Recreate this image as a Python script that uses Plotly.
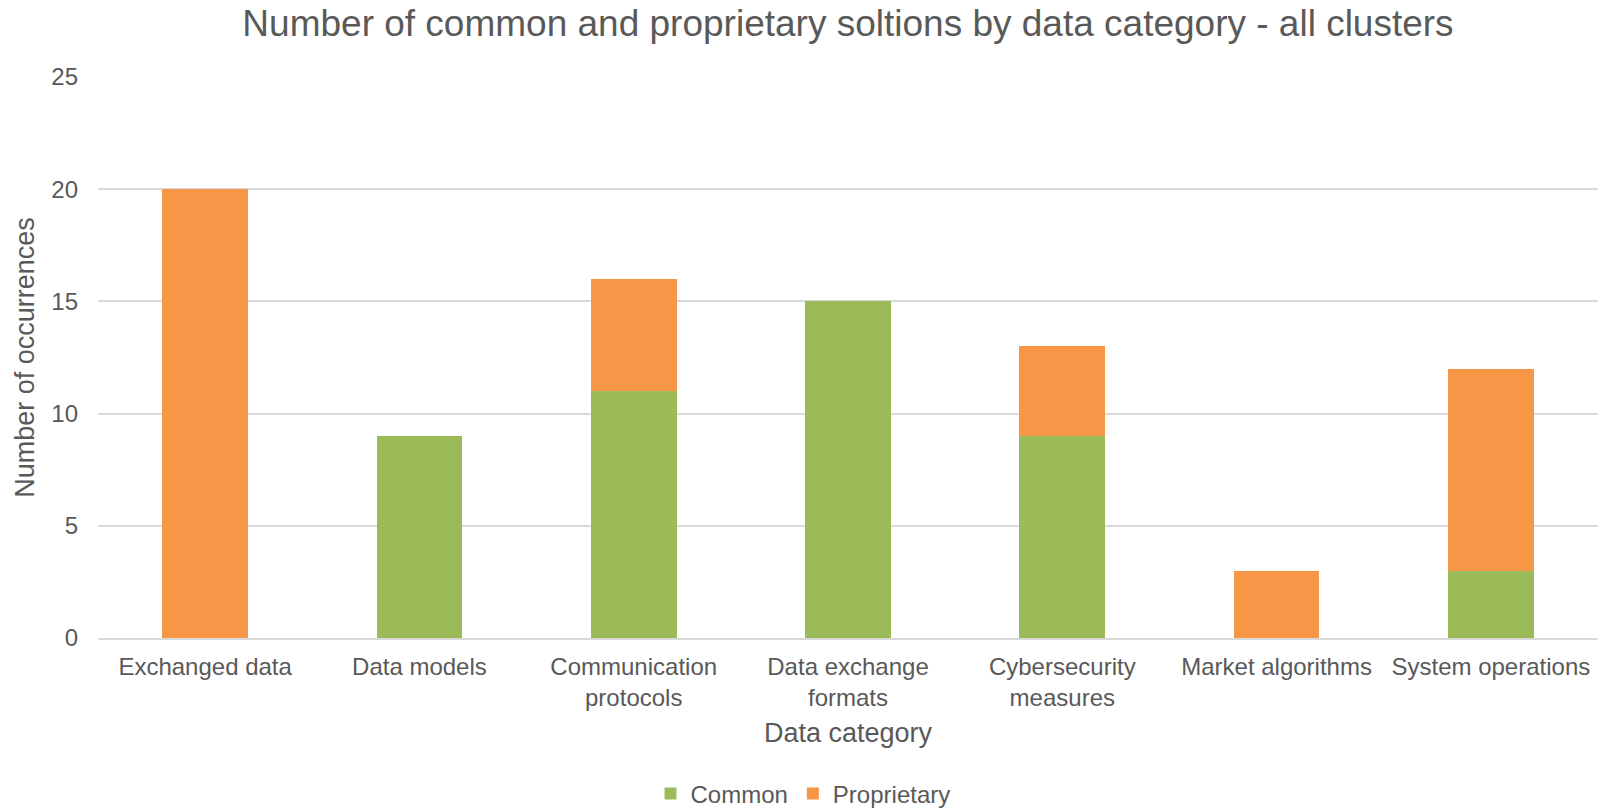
import plotly.graph_objects as go

# Data categories on the x axis
categories = [
    "Exchanged data",
    "Data models",
    "Communication<br>protocols",
    "Data exchange<br>formats",
    "Cybersecurity<br>measures",
    "Market algorithms",
    "System operations",
]

# Number of solutions per category
common = [0, 9, 11, 15, 9, 0, 3]
proprietary = [20, 0, 5, 0, 4, 3, 9]

y_ticks = [0, 5, 10, 15, 20, 25]

GREEN = "#9BBB59"
ORANGE = "#F79646"
TEXT = "#595959"
GRID = "#D9D9D9"
FONT = "Liberation Sans, Arial, sans-serif"

fig = go.Figure()
fig.add_trace(go.Bar(name="Common", x=categories, y=common,
                     marker=dict(color=GREEN, line=dict(width=0))))
fig.add_trace(go.Bar(name="Proprietary", x=categories, y=proprietary,
                     marker=dict(color=ORANGE, line=dict(width=0))))

fig.update_layout(
    width=1608,
    height=812,
    barmode="stack",
    bargap=0.6,
    plot_bgcolor="white",
    paper_bgcolor="white",
    font=dict(family=FONT, color=TEXT, size=24),
    margin=dict(l=98, r=10, t=77, b=174, autoexpand=False),
    title=dict(
        text="Number of common and proprietary soltions by data category - all clusters",
        x=0.5, xanchor="center", xref="paper",
        y=1 - 23 / 812, yanchor="middle", yref="container",
        font=dict(size=37, color=TEXT, family=FONT),
    ),
    legend=dict(
        orientation="h",
        x=0.47, xanchor="center",
        y=-0.278, yanchor="middle",
        font=dict(size=24, color=TEXT),
        itemwidth=30,
        traceorder="normal",
    ),
    hovermode=False,
)

fig.update_xaxes(
    title=dict(text="Data category", font=dict(size=27, color=TEXT), standoff=13),
    showline=True, linecolor=GRID, linewidth=2,
    showgrid=False, ticks="",
    ticklabelstandoff=6,
    tickfont=dict(size=24, color=TEXT),
    automargin=False,
)
fig.update_yaxes(
    title=dict(text="Number of occurrences", font=dict(size=27, color=TEXT), standoff=8),
    range=[0, 25], tickvals=y_ticks,
    showgrid=True, gridcolor=GRID, gridwidth=2,
    zeroline=False, showline=False, ticks="",
    ticklabelstandoff=19,
    tickfont=dict(size=24, color=TEXT),
    automargin=False,
)

fig.write_html("out.html")
